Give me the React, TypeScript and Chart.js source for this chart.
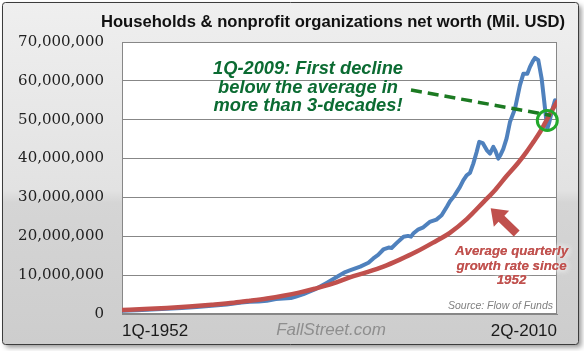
import React, { useEffect, useRef } from "react";
import { Chart, registerables } from "chart.js";

Chart.register(...registerables);

// ---------- texts ----------
const TITLE = "Households & nonprofit organizations net worth (Mil. USD)";
const X_TICK_LABELS = ["1Q-1952", "2Q-2010"];
const X_TICK_YEARS = [1952.0, 2010.25];
const Y_TICK_VALUES = [0, 10e6, 20e6, 30e6, 40e6, 50e6, 60e6, 70e6];
const NOTE_LINES = ["1Q-2009: First decline", "below the average in", "more than 3-decades!"];
const GROWTH_NOTE_LINES = ["Average quarterly", "growth rate since", "1952"];
const SOURCE_TEXT = "Source: Flow of Funds";
const WATERMARK = "FallStreet.com";

// ---------- data (Mil. USD) ----------
const netWorthYears = [
  1952.0, 1954.0, 1956.0, 1958.0, 1960.0, 1962.0, 1964.0, 1966.0, 1968.0, 1969.1,
  1970.3, 1971.4, 1972.6, 1973.6, 1974.6, 1975.3, 1976.3, 1977.8, 1979.4, 1980.75,
  1981.9, 1982.5, 1983.9, 1985.0, 1985.65, 1986.3, 1987.0, 1987.7, 1988.1, 1988.8,
  1989.7, 1990.3, 1990.7, 1991.0, 1991.7, 1992.35, 1993.2, 1994.1, 1994.8, 1995.5,
  1995.92, 1996.5, 1997.26, 1997.7, 1998.15, 1998.6, 1999.04, 1999.49, 1999.84, 2000.3,
  2000.84, 2001.28, 2001.72, 2002.0, 2002.39, 2002.7, 2003.06, 2003.5, 2003.95, 2004.62,
  2005.29, 2005.74, 2006.27, 2006.63, 2007.0, 2007.3, 2007.75, 2008.2, 2008.5, 2008.77,
  2008.95, 2009.22, 2009.54, 2009.98, 2010.25,
];
const netWorthValues = [
  0.85e6, 0.97e6, 1.15e6, 1.32e6, 1.52e6, 1.78e6, 2.1e6, 2.45e6, 2.95e6, 3.15e6,
  3.2e6, 3.4e6, 3.85e6, 4.0e6, 4.1e6, 4.5e6, 5.1e6, 6.3e6, 8.0e6, 9.5e6,
  10.8e6, 11.2e6, 12.2e6, 13.2e6, 14.3e6, 15.2e6, 16.6e6, 17.1e6, 17.0e6, 18.3e6,
  19.9e6, 20.1e6, 19.9e6, 20.7e6, 21.8e6, 22.3e6, 23.7e6, 24.3e6, 25.4e6, 27.6e6,
  29.0e6, 30.4e6, 32.7e6, 34.4e6, 35.7e6, 36.3e6, 38.7e6, 41.7e6, 44.3e6, 44.0e6,
  42.2e6, 41.3e6, 43.0e6, 42.0e6, 40.0e6, 41.0e6, 42.5e6, 45.2e6, 49.4e6, 52.8e6,
  58.9e6, 61.8e6, 61.8e6, 63.6e6, 65.0e6, 65.9e6, 65.3e6, 60.5e6, 55.4e6, 50.7e6,
  47.7e6, 49.4e6, 52.0e6, 55.0e6, 54.8e6,
];

const avgGrowthYears = [
  1952.0, 1955.0, 1958.0, 1961.0, 1964.0, 1967.0, 1969.1, 1971.4, 1973.6, 1975.7,
  1977.8, 1980.2, 1982.5, 1984.7, 1987.0, 1989.2, 1991.4, 1993.6, 1995.9, 1998.2,
  2000.4, 2002.0, 2003.5, 2005.0, 2006.2, 2007.1, 2008.0, 2008.7, 2009.3, 2010.25,
];
const avgGrowthValues = [
  1.05e6, 1.28e6, 1.57e6, 1.93e6, 2.38e6, 2.9e6, 3.4e6, 4.0e6, 4.7e6, 5.5e6,
  6.5e6, 7.8e6, 9.4e6, 10.7e6, 12.2e6, 14.0e6, 16.0e6, 18.3e6, 20.9e6, 24.5e6,
  28.8e6, 32.0e6, 35.5e6, 38.8e6, 41.8e6, 44.3e6, 46.9e6, 49.3e6, 51.4e6, 54.6e6,
];

// annotation anchors (data units)
const CIRCLE_YEAR = 2008.95;
const CIRCLE_VALUE = 49.8e6;
const DASH_END_YEAR = 2009.44;
const DASH_END_VALUE = 51.1e6;

const BLUE = "#4f81bd";
const RED = "#c0504d";
const GRID = "#878787";

function roundRectPath(ctx: CanvasRenderingContext2D, x: number, y: number, w: number, h: number, r: number) {
  ctx.beginPath();
  ctx.moveTo(x + r, y);
  ctx.lineTo(x + w - r, y);
  ctx.quadraticCurveTo(x + w, y, x + w, y + r);
  ctx.lineTo(x + w, y + h - r);
  ctx.quadraticCurveTo(x + w, y + h, x + w - r, y + h);
  ctx.lineTo(x + r, y + h);
  ctx.quadraticCurveTo(x, y + h, x, y + h - r);
  ctx.lineTo(x, y + r);
  ctx.quadraticCurveTo(x, y, x + r, y);
  ctx.closePath();
}

const decorPlugin = {
  id: "decor",
  beforeDraw(chart: any) {
    const { ctx, chartArea: a } = chart;
    ctx.save();
    ctx.fillStyle = "#ffffff";
    ctx.fillRect(0, 0, chart.width, chart.height);
    // frame with shadow
    const g = ctx.createLinearGradient(0, 2, 0, 345);
    g.addColorStop(0, "#efefef");
    g.addColorStop(0.55, "#e2e2e2");
    g.addColorStop(0.585, "#d5d5d5");
    g.addColorStop(1, "#cdcdcd");
    ctx.shadowColor = "rgba(0,0,0,0.4)";
    ctx.shadowBlur = 5;
    ctx.shadowOffsetX = 3;
    ctx.shadowOffsetY = 3;
    roundRectPath(ctx, 2.5, 2.5, 576, 342, 3);
    ctx.fillStyle = g;
    ctx.fill();
    ctx.shadowColor = "transparent";
    ctx.shadowBlur = 0;
    ctx.shadowOffsetX = 0;
    ctx.shadowOffsetY = 0;
    ctx.lineWidth = 1;
    ctx.strokeStyle = "#3c3c3c";
    ctx.stroke();
    // plot area
    ctx.fillStyle = "#ffffff";
    ctx.fillRect(a.left, a.top, a.right - a.left, a.bottom - a.top);
    // title (fit to measured width)
    ctx.font = "bold 17px 'Liberation Sans'";
    const w = ctx.measureText(TITLE).width;
    const size = (17 * 464) / w;
    ctx.font = `bold ${size.toFixed(2)}px 'Liberation Sans'`;
    ctx.fillStyle = "#111111";
    ctx.textAlign = "right";
    ctx.textBaseline = "alphabetic";
    ctx.fillText(TITLE, 565, 26.5);
    ctx.restore();
  },
  beforeDatasetsDraw(chart: any) {
    const { ctx, chartArea: a } = chart;
    ctx.save();
    ctx.strokeStyle = GRID;
    ctx.lineWidth = 1;
    ctx.strokeRect(Math.round(a.left) + 0.5, Math.round(a.top) + 0.5, Math.round(a.right - a.left) - 1, Math.round(a.bottom - a.top) - 1);
    ctx.restore();
  },
  afterDraw(chart: any) {
    const { ctx } = chart;
    const xs = chart.scales.x;
    const ys = chart.scales.y;
    ctx.save();

    // green dashed line
    const ex = xs.getPixelForValue(DASH_END_YEAR);
    const ey = ys.getPixelForValue(DASH_END_VALUE);
    ctx.strokeStyle = "#1c7a22";
    ctx.lineWidth = 3.5;
    ctx.setLineDash([11, 6]);
    ctx.beginPath();
    ctx.moveTo(411, 90);
    ctx.lineTo(ex, ey);
    ctx.stroke();
    ctx.setLineDash([]);

    // green circle
    const cx = xs.getPixelForValue(CIRCLE_YEAR);
    const cy = ys.getPixelForValue(CIRCLE_VALUE);
    ctx.strokeStyle = "#22a82a";
    ctx.lineWidth = 3;
    ctx.beginPath();
    ctx.arc(cx, cy, 10, 0, Math.PI * 2);
    ctx.stroke();

    // green note
    ctx.fillStyle = "#0b6b32";
    ctx.font = "italic bold 18.3px 'Liberation Sans'";
    ctx.textAlign = "center";
    ctx.textBaseline = "middle";
    const noteY = [69, 87.5, 106];
    NOTE_LINES.forEach((t, i) => ctx.fillText(t, 308, noteY[i]));

    // red arrow
    const T = { x: 490.7, y: 208.3 };
    const E = { x: 516.7, y: 233.5 };
    const dx = T.x - E.x;
    const dy = T.y - E.y;
    const len = Math.hypot(dx, dy);
    const ux = dx / len;
    const uy = dy / len;
    const px = -uy;
    const py = ux;
    const headLen = 15;
    const headHalf = 11;
    const shaftHalf = 4.2;
    const B = { x: T.x - ux * headLen, y: T.y - uy * headLen };
    ctx.fillStyle = RED;
    ctx.beginPath();
    ctx.moveTo(E.x + px * shaftHalf, E.y + py * shaftHalf);
    ctx.lineTo(B.x + px * shaftHalf, B.y + py * shaftHalf);
    ctx.lineTo(B.x + px * headHalf, B.y + py * headHalf);
    ctx.lineTo(T.x, T.y);
    ctx.lineTo(B.x - px * headHalf, B.y - py * headHalf);
    ctx.lineTo(B.x - px * shaftHalf, B.y - py * shaftHalf);
    ctx.lineTo(E.x - px * shaftHalf, E.y - py * shaftHalf);
    ctx.closePath();
    ctx.fill();

    // red note with white glow
    ctx.font = "italic bold 13.3px 'Liberation Sans'";
    ctx.textAlign = "center";
    ctx.textBaseline = "middle";
    const gy = [251, 266, 280.5];
    ctx.shadowColor = "rgba(255,255,255,1)";
    ctx.shadowBlur = 7;
    ctx.fillStyle = RED;
    GROWTH_NOTE_LINES.forEach((t, i) => ctx.fillText(t, 511.5, gy[i]));
    GROWTH_NOTE_LINES.forEach((t, i) => ctx.fillText(t, 511.5, gy[i]));
    ctx.shadowColor = "transparent";
    ctx.shadowBlur = 0;

    // source
    ctx.font = "italic 10.5px 'Liberation Sans'";
    ctx.fillStyle = "#7f7f7f";
    ctx.textAlign = "right";
    ctx.fillText(SOURCE_TEXT, 553, 306);

    // watermark
    ctx.font = "italic 17px 'Liberation Sans'";
    ctx.fillStyle = "#8e8e8e";
    ctx.textAlign = "center";
    ctx.fillText(WATERMARK, 331, 330);

    ctx.restore();
  },
};

export default function App() {
  const ref = useRef<HTMLCanvasElement | null>(null);
  useEffect(() => {
    if (!ref.current) return;
    const chart = new Chart(ref.current, {
      type: "line",
      data: {
        datasets: [
          {
            label: "Average quarterly growth rate since 1952",
            data: avgGrowthYears.map((x, i) => ({ x, y: avgGrowthValues[i] })),
            borderColor: RED,
            borderWidth: 4.5,
            pointRadius: 0,
            cubicInterpolationMode: "monotone",
            borderCapStyle: "round",
            borderJoinStyle: "round",
            fill: false,
          },
          {
            label: "Households & nonprofit organizations net worth",
            data: netWorthYears.map((x, i) => ({ x, y: netWorthValues[i] })),
            borderColor: BLUE,
            borderWidth: 4,
            pointRadius: 0,
            tension: 0,
            borderCapStyle: "round",
            borderJoinStyle: "round",
            fill: false,
          },
        ],
      },
      options: {
        animation: false,
        responsive: false,
        devicePixelRatio: 1,
        layout: { padding: { left: 18, right: 27, top: 42, bottom: 0 } },
        plugins: { legend: { display: false }, title: { display: false }, tooltip: { enabled: false } },
        scales: {
          x: {
            type: "linear",
            min: X_TICK_YEARS[0],
            max: X_TICK_YEARS[1],
            afterBuildTicks: (s: any) => {
              s.ticks = X_TICK_YEARS.map((v) => ({ value: v }));
            },
            afterFit: (s: any) => {
              s.height = 37;
            },
            grid: { display: false, drawTicks: false },
            border: { display: true, color: GRID, width: 1 },
            ticks: {
              autoSkip: false,
              maxRotation: 0,
              align: "inner",
              padding: 7,
              color: "#1a1a1a",
              font: { family: "'Liberation Sans'", size: 17 },
              callback: (_v: any, i: number) => X_TICK_LABELS[i],
            },
          },
          y: {
            min: 0,
            max: 70e6,
            afterBuildTicks: (s: any) => {
              s.ticks = Y_TICK_VALUES.map((v) => ({ value: v }));
            },
            afterFit: (s: any) => {
              s.width = 104;
            },
            grid: { color: GRID, lineWidth: 1, drawTicks: false },
            border: { display: true, color: GRID, width: 1 },
            ticks: {
              padding: 18,
              color: "#222222",
              font: { family: "'DejaVu Serif'", size: 15 },
              callback: (v: any) => Number(v).toLocaleString("en-US"),
            },
          },
        },
      },
      plugins: [decorPlugin],
    } as any);
    return () => chart.destroy();
  }, []);
  return (
    <div style={{ position: "fixed", left: 0, top: 0, width: 584, height: 351 }}>
      <canvas ref={ref} width={584} height={351} style={{ display: "block" }} />
    </div>
  );
}
